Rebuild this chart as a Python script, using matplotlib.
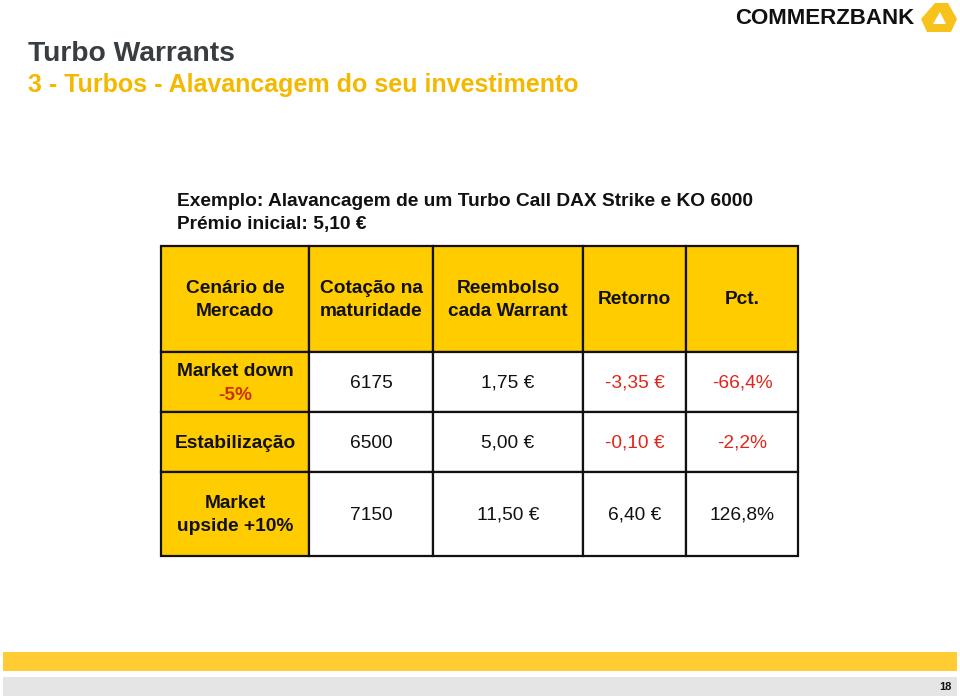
import matplotlib
matplotlib.use('Agg')
import matplotlib.pyplot as plt
from matplotlib.patches import Rectangle, Polygon

# slide texts
title = 'Turbo Warrants'
subtitle = '3 - Turbos - Alavancagem do seu investimento'
example_lines = ['Exemplo: Alavancagem de um Turbo Call DAX Strike e KO 6000',
                 'Prémio inicial: 5,10 €']

# table data
headers = ['Cenário de\nMercado', 'Cotação na\nmaturidade', 'Reembolso\ncada Warrant', 'Retorno', 'Pct.']
scenarios = ['Market down\n-5%', 'Estabilização', 'Market\nupside +10%']
cotacao = ['6175', '6500', '7150']
reembolso = ['1,75 €', '5,00 €', '11,50 €']
retorno = ['-3,35 €', '-0,10 €', '6,40 €']
pct = ['-66,4%', '-2,2%', '126,8%']
negative = [True, True, False]
page = '18'

# layout (pixels)
col_edges = [161, 309, 433, 583, 686, 798]
row_edges = [246, 352, 412, 472, 556]

YELLOW = '#ffcc00'
RED = '#e3241b'
FONT = ['Liberation Sans', 'DejaVu Sans']
FS = 13.8
LS = 1.5

fig = plt.figure(figsize=(9.6, 6.99), dpi=100)
ax = fig.add_axes([0, 0, 1, 1])
ax.set_xlim(0, 960)
ax.set_ylim(699, 0)
ax.axis('off')

# title
ax.text(28, 54, title, fontsize=20.3, fontweight='bold', color='#383d42', family=FONT, va='center')
ax.text(28, 85, subtitle, fontsize=18, fontweight='bold', color='#f5b800', family=FONT, va='center')

# logo
ax.text(914, 19, 'COMMERZBANK', fontsize=16, fontweight='bold', color='#111111',
        family=FONT, ha='right', va='center')
outer = [(935, 3), (948, 3), (957, 19), (951, 32), (927, 32), (921, 19)]
inner = [(940, 12), (946, 24), (933, 24)]
ax.add_patch(Polygon(outer, closed=True, facecolor='#f7c21b', edgecolor='none'))
ax.add_patch(Polygon(inner, closed=True, facecolor='white', edgecolor='none'))

# example text
ax.text(177, 201, example_lines[0], fontsize=FS, fontweight='bold', color='#111111',
        family=FONT, va='center')
ax.text(177, 225, example_lines[1], fontsize=FS, fontweight='bold', color='#111111',
        family=FONT, va='center')

# table cells
cols = [scenarios, cotacao, reembolso, retorno, pct]
for j in range(5):
    x0, x1 = col_edges[j], col_edges[j + 1]
    cx = (x0 + x1) / 2
    y0, y1 = row_edges[0], row_edges[1]
    ax.add_patch(Rectangle((x0, y0), x1 - x0, y1 - y0, facecolor=YELLOW,
                           edgecolor='#111111', lw=1.6))
    ax.text(cx, (y0 + y1) / 2 + 1, headers[j], fontsize=FS, fontweight='bold',
            color='#111111', family=FONT, ha='center', va='center', linespacing=LS)
    for i in range(3):
        y0, y1 = row_edges[i + 1], row_edges[i + 2]
        cy = (y0 + y1) / 2
        fc = YELLOW if j == 0 else 'white'
        ax.add_patch(Rectangle((x0, y0), x1 - x0, y1 - y0, facecolor=fc,
                               edgecolor='#111111', lw=1.6))
        if j == 0:
            if i == 0:
                top, low = scenarios[0].split('\n')
                ax.text(cx, cy - 10, top, fontsize=FS, fontweight='bold',
                        color='#111111', family=FONT, ha='center', va='center')
                ax.text(cx, cy + 14, low, fontsize=FS, fontweight='bold',
                        color='#cc3300', family=FONT, ha='center', va='center')
            else:
                ax.text(cx, cy + 1, scenarios[i], fontsize=FS, fontweight='bold',
                        color='#111111', family=FONT, ha='center', va='center',
                        linespacing=LS)
        else:
            color = RED if (j >= 3 and negative[i]) else '#111111'
            ax.text(cx, cy + 1, cols[j][i], fontsize=FS, color=color, family=FONT,
                    ha='center', va='center')

# footer bars
ax.add_patch(Rectangle((3, 652), 954, 19, facecolor='#ffcc33', edgecolor='none'))
ax.add_patch(Rectangle((3, 677), 954, 19, facecolor='#e5e5e5', edgecolor='none'))
ax.text(952, 687, page, fontsize=8, fontweight='bold', color='#111111', family=FONT,
        ha='right', va='center')

fig.savefig('out.png', dpi=100)
